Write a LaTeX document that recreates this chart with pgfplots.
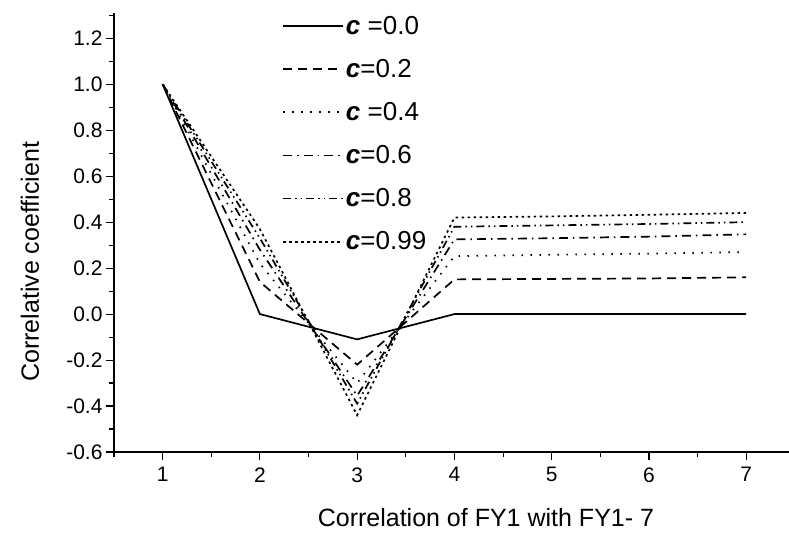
\documentclass[border=0pt]{standalone}
\usepackage{fontspec}
\setmainfont{Liberation Sans}
\usepackage{pgfplots}
\pgfplotsset{compat=1.18}
\begin{document}
\begin{tikzpicture}
\useasboundingbox (-114pt,-82pt) rectangle (675pt,452pt);
\begin{axis}[
  scale only axis,
  width=675pt, height=439pt,
  xmin=0.5, xmax=7.44,
  ymin=-0.6, ymax=1.31,
  axis x line*=bottom, axis y line*=left,
  axis line style={line width=1.3pt, -},
  tick align=outside,
  major tick length=8pt, minor tick length=5pt,
  every tick/.style={line width=1.1pt, black},
  xtick={1,2,3,4,5,6,7},
  minor xtick={0.5,1.5,2.5,3.5,4.5,5.5,6.5},
  ytick={-0.6,-0.4,-0.2,0,0.2,0.4,0.6,0.8,1.0,1.2},
  minor ytick={-0.5,-0.3,-0.1,0.1,0.3,0.5,0.7,0.9,1.1,1.3},
  /pgf/number format/assume math mode=true,
  yticklabel style={/pgf/number format/.cd, fixed, fixed zerofill, precision=1},
  xticklabel style={yshift=-4pt},
  tick label style={font=\fontsize{21}{24}\selectfont},
  xlabel={Correlation of FY1 with FY1- 7},
  ylabel={Correlative coefficient},
  label style={font=\fontsize{25}{28}\selectfont},
  xlabel style={at={(axis description cs:0.551,0)}, anchor=center, yshift=-66pt},
  ylabel style={at={(axis description cs:0,0.433)}, anchor=center, yshift=84pt},
  legend style={draw=none, fill=none, at={(axis description cs:0.249,0.998)}, anchor=north west,
    font=\fontsize{26}{30}\selectfont, row sep=19.5pt, inner sep=0pt,
    /tikz/every even column/.append style={column sep=0pt}},
  legend cell align=left,
  legend image code/.code={\draw[#1] (0pt,0pt) -- (60pt,0pt);},
]
\addplot[black, line width=1.7pt] coordinates {(1,1) (2,0) (3,-0.11) (4,0) (5,0) (6,0) (7,0)};
\addlegendentry{\textbf{\textit{c}} =0.0}
\addplot[black, line width=1.7pt, dash pattern=on 9pt off 6pt] coordinates {(1,1) (2,0.14) (3,-0.22) (4,0.151) (5,0.153) (6,0.155) (7,0.16)};
\addlegendentry{\textbf{\textit{c}}=0.2}
\addplot[black, line width=1.7pt, dash pattern=on 1.5pt off 7.5pt] coordinates {(1,1) (2,0.22) (3,-0.30) (4,0.252) (5,0.258) (6,0.263) (7,0.27)};
\addlegendentry{\textbf{\textit{c}} =0.4}
\addplot[black, line width=1.7pt, dash pattern=on 9pt off 5pt on 1.5pt off 5pt] coordinates {(1,1) (2,0.28) (3,-0.355) (4,0.325) (5,0.33) (6,0.337) (7,0.347)};
\addlegendentry{\textbf{\textit{c}}=0.6}
\addplot[black, line width=1.7pt, dash pattern=on 8pt off 4pt on 1.5pt off 4pt on 1.5pt off 4pt] coordinates {(1,1) (2,0.33) (3,-0.39) (4,0.38) (5,0.386) (6,0.392) (7,0.40)};
\addlegendentry{\textbf{\textit{c}}=0.8}
\addplot[black, line width=1.7pt, dash pattern=on 2.5pt off 3.5pt] coordinates {(1,1) (2,0.37) (3,-0.44) (4,0.42) (5,0.425) (6,0.432) (7,0.44)};
\addlegendentry{\textbf{\textit{c}}=0.99}
\end{axis}
\end{tikzpicture}
\end{document}
